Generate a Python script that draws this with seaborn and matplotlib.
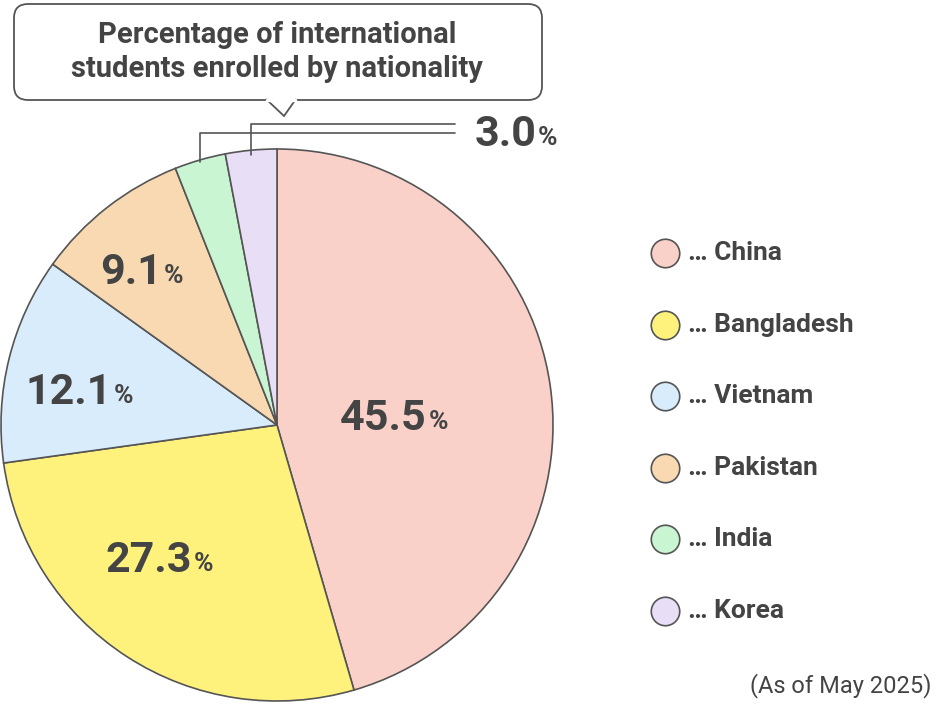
import matplotlib.pyplot as plt
import seaborn as sns
from matplotlib.patches import FancyBboxPatch, Polygon

countries = ["China", "Bangladesh", "Vietnam", "Pakistan", "India", "Korea"]
shares = [45.5, 27.3, 12.1, 9.1, 3.0, 3.0]
colors = ["#f9d1c9", "#fff27c", "#d9ecfb", "#f8d9b1", "#c9f5d2", "#e8def6"]
labels = ["45.5", "27.3", "12.1", "9.1", "", ""]
label_pos = [(415, 418), (180, 560), (100, 392), (150, 272)]

sns.set_theme(style="white", font="Roboto")
fig = plt.figure(figsize=(9.36, 7.12), dpi=100)
ax = fig.add_axes([0, 0, 1, 1])
ink = "#444444"
fp = dict(fontfamily="Roboto", fontweight="bold", color=ink)

# pie drawn in flipped y coordinates: counterclock=True appears clockwise
wedges, _ = ax.pie(shares, colors=colors, startangle=-90, counterclock=True,
                   center=(277, 425), radius=276, frame=True,
                   wedgeprops=dict(edgecolor="#555555", linewidth=1.2))
ax.set_xlim(0, 936)
ax.set_ylim(712, 0)
ax.set_aspect("equal")
ax.axis("off")

for lab, (x, y) in zip(labels, label_pos):
    ax.text(x + 12, y, lab, ha="right", va="center", fontsize=31, **fp)
    ax.text(x + 14, y + 4, "%", ha="left", va="center", fontsize=19, **fp)

# small-slice leaders
ax.plot([200, 200, 455], [162, 133, 133], color="#555555", lw=1.2)
ax.plot([251, 251, 455], [155, 124, 124], color="#555555", lw=1.2)
ax.text(536, 134, "3.0", ha="right", va="center", fontsize=31, **fp)
ax.text(538, 138, "%", ha="left", va="center", fontsize=19, **fp)

# title callout
box = FancyBboxPatch((14, 4), 528, 96, boxstyle="round,pad=0,rounding_size=14",
                     facecolor="white", edgecolor="#555555", lw=1.3)
ax.add_patch(box)
ax.add_patch(Polygon([(266, 99), (284, 116), (296, 99)], closed=False,
                     facecolor="white", edgecolor="#555555", lw=1.3))
ax.plot([267, 295], [100, 100], color="white", lw=2.5)
ax.text(277, 52, "Percentage of international\nstudents enrolled by nationality",
        ha="center", va="center", fontsize=21, linespacing=1.3, **fp)

# legend
for i, (name, c) in enumerate(zip(countries, colors)):
    y = 253 + i * 71.6
    ax.scatter([665], [y], s=420, color=c, edgecolor="#555555", lw=1.2, zorder=3)
    ax.text(688, y, "\u2026 " + name, ha="left", va="center", fontsize=19, **fp)

ax.text(932, 686, "(As of May 2025)", ha="right", va="center", fontsize=17,
        fontfamily="Roboto", color=ink)

fig.savefig("out.png", dpi=100)
